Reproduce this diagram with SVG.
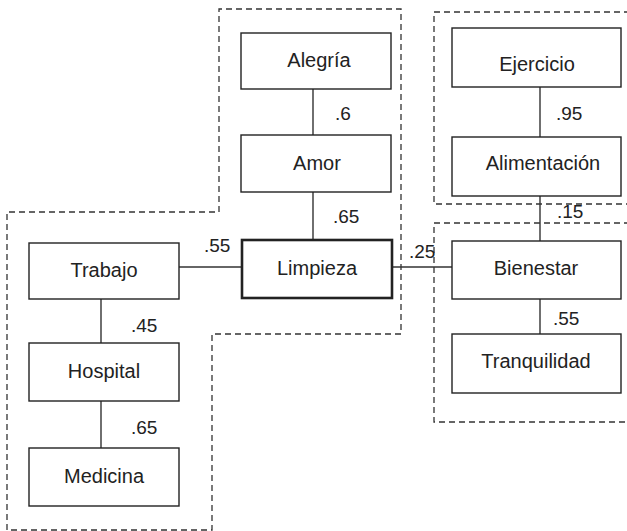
<svg xmlns="http://www.w3.org/2000/svg" width="627" height="531" viewBox="0 0 627 531">
<style>
.box{fill:#fff;stroke:#222;stroke-width:1.4}
.main{fill:#fff;stroke:#222;stroke-width:2.6}
.dash{fill:none;stroke:#333;stroke-width:1.3;stroke-dasharray:6,4}
.edge{stroke:#333;stroke-width:1.4;fill:none}
text{font-family:"Liberation Sans",Arial,sans-serif;font-size:19px;fill:#222}
.n{text-anchor:middle;font-size:20px}
</style>
<rect width="627" height="531" fill="#fff"/>
<g id="groups">
<path class="dash" d="M219,212 V9 H401 V334 H212 V530 H7 V212 Z"/>
<path class="dash" d="M630,12 H434 V204 H630"/>
<path class="dash" d="M630,223 H434 V422 H630"/>
</g>
<g id="connectors">
<line class="edge" x1="313" y1="89" x2="313" y2="135"/>
<line class="edge" x1="313" y1="192" x2="313" y2="240"/>
<line class="edge" x1="179" y1="267" x2="242" y2="267"/>
<line class="edge" x1="392" y1="267" x2="452" y2="267"/>
<line class="edge" x1="101" y1="299" x2="101" y2="343"/>
<line class="edge" x1="101" y1="401" x2="101" y2="448"/>
<line class="edge" x1="540" y1="87" x2="540" y2="137"/>
<line class="edge" x1="540" y1="196" x2="540" y2="241"/>
<line class="edge" x1="540" y1="299" x2="540" y2="334"/>
<text x="335" y="120">.6</text>
<text x="333" y="223">.65</text>
<text x="204" y="252">.55</text>
<text x="409" y="258">.25</text>
<text x="131" y="332">.45</text>
<text x="131" y="434">.65</text>
<text x="556" y="120">.95</text>
<text x="557" y="218">.15</text>
<text x="553" y="325">.55</text>
</g>
<g id="alegria"><rect class="box" x="241" y="33" width="150" height="56"/><text class="n" x="319" y="67">Alegría</text></g>
<g id="amor"><rect class="box" x="241" y="135" width="150" height="57"/><text class="n" x="317" y="170">Amor</text></g>
<g id="limpieza"><rect class="main" x="242" y="240" width="150" height="58"/><text class="n" x="317" y="275">Limpieza</text></g>
<g id="trabajo"><rect class="box" x="29" y="243" width="150" height="56"/><text class="n" x="104" y="277">Trabajo</text></g>
<g id="hospital"><rect class="box" x="29" y="343" width="150" height="58"/><text class="n" x="104" y="378">Hospital</text></g>
<g id="medicina"><rect class="box" x="29" y="448" width="150" height="58"/><text class="n" x="104" y="483">Medicina</text></g>
<g id="ejercicio"><rect class="box" x="452" y="28" width="169" height="59"/><text class="n" x="537" y="71">Ejercicio</text></g>
<g id="alimentacion"><rect class="box" x="452" y="137" width="169" height="59"/><text class="n" x="543" y="170">Alimentación</text></g>
<g id="bienestar"><rect class="box" x="452" y="241" width="169" height="58"/><text class="n" x="536" y="275">Bienestar</text></g>
<g id="tranquilidad"><rect class="box" x="452" y="334" width="169" height="59"/><text class="n" x="536" y="368">Tranquilidad</text></g>
</svg>
